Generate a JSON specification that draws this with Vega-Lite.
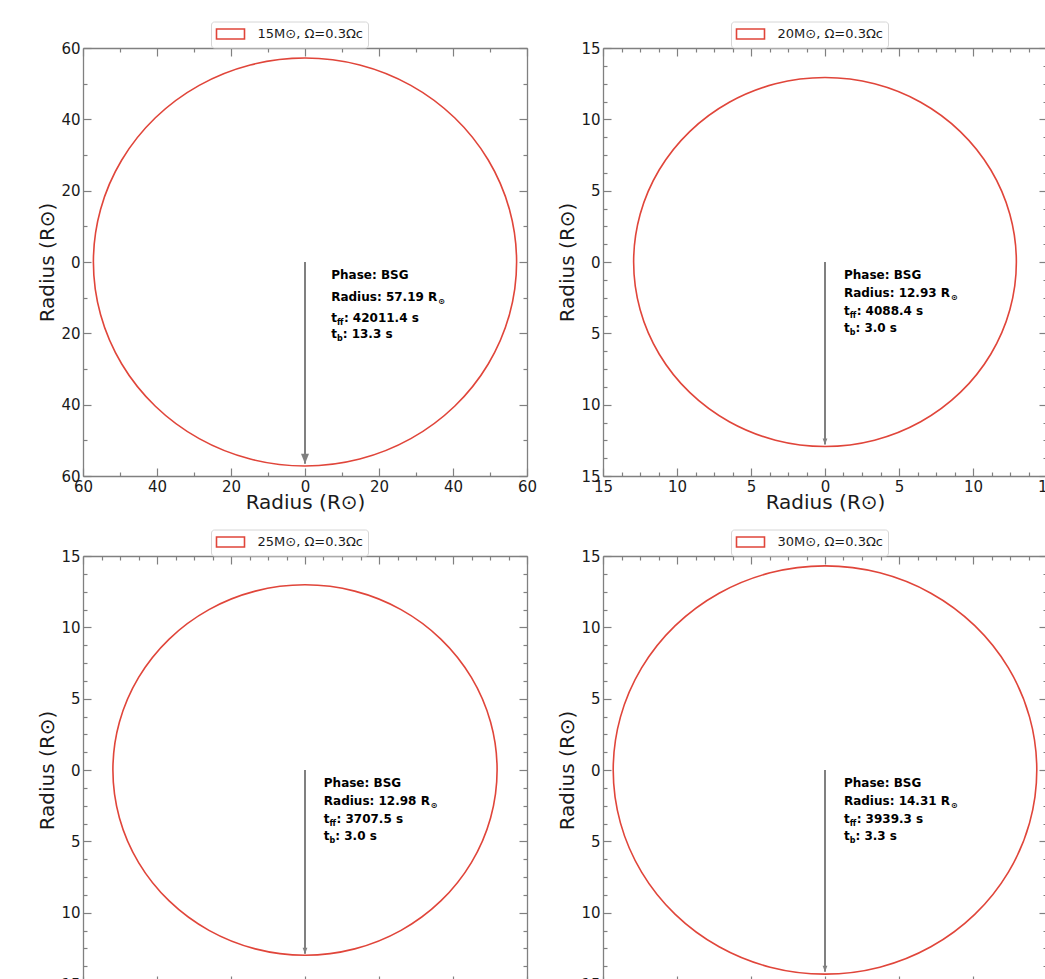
{
"$schema": "https://vega.github.io/schema/vega-lite/v6.json",
"padding": {"left": 37, "top": 21, "right": 0, "bottom": 0},
"datasets": {
"circle": [
{"star":"15M⊙, Ω=0.3Ωc","a":0,"x":57.19,"y":0},
{"star":"15M⊙, Ω=0.3Ωc","a":1,"x":55.242,"y":14.802},
{"star":"15M⊙, Ω=0.3Ωc","a":2,"x":49.528,"y":28.595},
{"star":"15M⊙, Ω=0.3Ωc","a":3,"x":40.44,"y":40.44},
{"star":"15M⊙, Ω=0.3Ωc","a":4,"x":28.595,"y":49.528},
{"star":"15M⊙, Ω=0.3Ωc","a":5,"x":14.802,"y":55.242},
{"star":"15M⊙, Ω=0.3Ωc","a":6,"x":0,"y":57.19},
{"star":"15M⊙, Ω=0.3Ωc","a":7,"x":-14.802,"y":55.242},
{"star":"15M⊙, Ω=0.3Ωc","a":8,"x":-28.595,"y":49.528},
{"star":"15M⊙, Ω=0.3Ωc","a":9,"x":-40.44,"y":40.44},
{"star":"15M⊙, Ω=0.3Ωc","a":10,"x":-49.528,"y":28.595},
{"star":"15M⊙, Ω=0.3Ωc","a":11,"x":-55.242,"y":14.802},
{"star":"15M⊙, Ω=0.3Ωc","a":12,"x":-57.19,"y":0},
{"star":"15M⊙, Ω=0.3Ωc","a":13,"x":-55.242,"y":-14.802},
{"star":"15M⊙, Ω=0.3Ωc","a":14,"x":-49.528,"y":-28.595},
{"star":"15M⊙, Ω=0.3Ωc","a":15,"x":-40.44,"y":-40.44},
{"star":"15M⊙, Ω=0.3Ωc","a":16,"x":-28.595,"y":-49.528},
{"star":"15M⊙, Ω=0.3Ωc","a":17,"x":-14.802,"y":-55.242},
{"star":"15M⊙, Ω=0.3Ωc","a":18,"x":0,"y":-57.19},
{"star":"15M⊙, Ω=0.3Ωc","a":19,"x":14.802,"y":-55.242},
{"star":"15M⊙, Ω=0.3Ωc","a":20,"x":28.595,"y":-49.528},
{"star":"15M⊙, Ω=0.3Ωc","a":21,"x":40.44,"y":-40.44},
{"star":"15M⊙, Ω=0.3Ωc","a":22,"x":49.528,"y":-28.595},
{"star":"15M⊙, Ω=0.3Ωc","a":23,"x":55.242,"y":-14.802},
{"star":"20M⊙, Ω=0.3Ωc","a":0,"x":12.93,"y":0},
{"star":"20M⊙, Ω=0.3Ωc","a":1,"x":12.49,"y":3.347},
{"star":"20M⊙, Ω=0.3Ωc","a":2,"x":11.198,"y":6.465},
{"star":"20M⊙, Ω=0.3Ωc","a":3,"x":9.143,"y":9.143},
{"star":"20M⊙, Ω=0.3Ωc","a":4,"x":6.465,"y":11.198},
{"star":"20M⊙, Ω=0.3Ωc","a":5,"x":3.347,"y":12.49},
{"star":"20M⊙, Ω=0.3Ωc","a":6,"x":0,"y":12.93},
{"star":"20M⊙, Ω=0.3Ωc","a":7,"x":-3.347,"y":12.49},
{"star":"20M⊙, Ω=0.3Ωc","a":8,"x":-6.465,"y":11.198},
{"star":"20M⊙, Ω=0.3Ωc","a":9,"x":-9.143,"y":9.143},
{"star":"20M⊙, Ω=0.3Ωc","a":10,"x":-11.198,"y":6.465},
{"star":"20M⊙, Ω=0.3Ωc","a":11,"x":-12.49,"y":3.347},
{"star":"20M⊙, Ω=0.3Ωc","a":12,"x":-12.93,"y":0},
{"star":"20M⊙, Ω=0.3Ωc","a":13,"x":-12.49,"y":-3.347},
{"star":"20M⊙, Ω=0.3Ωc","a":14,"x":-11.198,"y":-6.465},
{"star":"20M⊙, Ω=0.3Ωc","a":15,"x":-9.143,"y":-9.143},
{"star":"20M⊙, Ω=0.3Ωc","a":16,"x":-6.465,"y":-11.198},
{"star":"20M⊙, Ω=0.3Ωc","a":17,"x":-3.347,"y":-12.49},
{"star":"20M⊙, Ω=0.3Ωc","a":18,"x":0,"y":-12.93},
{"star":"20M⊙, Ω=0.3Ωc","a":19,"x":3.347,"y":-12.49},
{"star":"20M⊙, Ω=0.3Ωc","a":20,"x":6.465,"y":-11.198},
{"star":"20M⊙, Ω=0.3Ωc","a":21,"x":9.143,"y":-9.143},
{"star":"20M⊙, Ω=0.3Ωc","a":22,"x":11.198,"y":-6.465},
{"star":"20M⊙, Ω=0.3Ωc","a":23,"x":12.49,"y":-3.347},
{"star":"25M⊙, Ω=0.3Ωc","a":0,"x":12.98,"y":0},
{"star":"25M⊙, Ω=0.3Ωc","a":1,"x":12.538,"y":3.36},
{"star":"25M⊙, Ω=0.3Ωc","a":2,"x":11.241,"y":6.49},
{"star":"25M⊙, Ω=0.3Ωc","a":3,"x":9.178,"y":9.178},
{"star":"25M⊙, Ω=0.3Ωc","a":4,"x":6.49,"y":11.241},
{"star":"25M⊙, Ω=0.3Ωc","a":5,"x":3.36,"y":12.538},
{"star":"25M⊙, Ω=0.3Ωc","a":6,"x":0,"y":12.98},
{"star":"25M⊙, Ω=0.3Ωc","a":7,"x":-3.36,"y":12.538},
{"star":"25M⊙, Ω=0.3Ωc","a":8,"x":-6.49,"y":11.241},
{"star":"25M⊙, Ω=0.3Ωc","a":9,"x":-9.178,"y":9.178},
{"star":"25M⊙, Ω=0.3Ωc","a":10,"x":-11.241,"y":6.49},
{"star":"25M⊙, Ω=0.3Ωc","a":11,"x":-12.538,"y":3.36},
{"star":"25M⊙, Ω=0.3Ωc","a":12,"x":-12.98,"y":0},
{"star":"25M⊙, Ω=0.3Ωc","a":13,"x":-12.538,"y":-3.36},
{"star":"25M⊙, Ω=0.3Ωc","a":14,"x":-11.241,"y":-6.49},
{"star":"25M⊙, Ω=0.3Ωc","a":15,"x":-9.178,"y":-9.178},
{"star":"25M⊙, Ω=0.3Ωc","a":16,"x":-6.49,"y":-11.241},
{"star":"25M⊙, Ω=0.3Ωc","a":17,"x":-3.36,"y":-12.538},
{"star":"25M⊙, Ω=0.3Ωc","a":18,"x":0,"y":-12.98},
{"star":"25M⊙, Ω=0.3Ωc","a":19,"x":3.36,"y":-12.538},
{"star":"25M⊙, Ω=0.3Ωc","a":20,"x":6.49,"y":-11.241},
{"star":"25M⊙, Ω=0.3Ωc","a":21,"x":9.178,"y":-9.178},
{"star":"25M⊙, Ω=0.3Ωc","a":22,"x":11.241,"y":-6.49},
{"star":"25M⊙, Ω=0.3Ωc","a":23,"x":12.538,"y":-3.36},
{"star":"30M⊙, Ω=0.3Ωc","a":0,"x":14.31,"y":0},
{"star":"30M⊙, Ω=0.3Ωc","a":1,"x":13.823,"y":3.704},
{"star":"30M⊙, Ω=0.3Ωc","a":2,"x":12.393,"y":7.155},
{"star":"30M⊙, Ω=0.3Ωc","a":3,"x":10.119,"y":10.119},
{"star":"30M⊙, Ω=0.3Ωc","a":4,"x":7.155,"y":12.393},
{"star":"30M⊙, Ω=0.3Ωc","a":5,"x":3.704,"y":13.823},
{"star":"30M⊙, Ω=0.3Ωc","a":6,"x":0,"y":14.31},
{"star":"30M⊙, Ω=0.3Ωc","a":7,"x":-3.704,"y":13.823},
{"star":"30M⊙, Ω=0.3Ωc","a":8,"x":-7.155,"y":12.393},
{"star":"30M⊙, Ω=0.3Ωc","a":9,"x":-10.119,"y":10.119},
{"star":"30M⊙, Ω=0.3Ωc","a":10,"x":-12.393,"y":7.155},
{"star":"30M⊙, Ω=0.3Ωc","a":11,"x":-13.823,"y":3.704},
{"star":"30M⊙, Ω=0.3Ωc","a":12,"x":-14.31,"y":0},
{"star":"30M⊙, Ω=0.3Ωc","a":13,"x":-13.823,"y":-3.704},
{"star":"30M⊙, Ω=0.3Ωc","a":14,"x":-12.393,"y":-7.155},
{"star":"30M⊙, Ω=0.3Ωc","a":15,"x":-10.119,"y":-10.119},
{"star":"30M⊙, Ω=0.3Ωc","a":16,"x":-7.155,"y":-12.393},
{"star":"30M⊙, Ω=0.3Ωc","a":17,"x":-3.704,"y":-13.823},
{"star":"30M⊙, Ω=0.3Ωc","a":18,"x":0,"y":-14.31},
{"star":"30M⊙, Ω=0.3Ωc","a":19,"x":3.704,"y":-13.823},
{"star":"30M⊙, Ω=0.3Ωc","a":20,"x":7.155,"y":-12.393},
{"star":"30M⊙, Ω=0.3Ωc","a":21,"x":10.119,"y":-10.119},
{"star":"30M⊙, Ω=0.3Ωc","a":22,"x":12.393,"y":-7.155},
{"star":"30M⊙, Ω=0.3Ωc","a":23,"x":13.823,"y":-3.704}
],
"info": [
{"star":"15M⊙, Ω=0.3Ωc","phase":"Phase: BSG","rad":"Radius: 57.19 R","tff":": 42011.4 s","tb":": 13.3 s","tx":7.08,"x0":0,"y0":0,"tip":-56.6},
{"star":"20M⊙, Ω=0.3Ωc","phase":"Phase: BSG","rad":"Radius: 12.93 R","tff":": 4088.4 s","tb":": 3.0 s","tx":1.28,"x0":0,"y0":0,"tip":-12.8},
{"star":"25M⊙, Ω=0.3Ωc","phase":"Phase: BSG","rad":"Radius: 12.98 R","tff":": 3707.5 s","tb":": 3.0 s","tx":1.27,"x0":0,"y0":0,"tip":-12.88},
{"star":"30M⊙, Ω=0.3Ωc","phase":"Phase: BSG","rad":"Radius: 14.31 R","tff":": 3939.3 s","tb":": 3.3 s","tx":1.28,"x0":0,"y0":0,"tip":-14.15}
]
},
"columns": 2,
"spacing": {"row": 80, "column": 76},
"bounds": "flush",
"resolve": {"scale": {"color": "independent"}, "legend": {"color": "independent"}},
"concat": [
{
"width": 444, "height": 428,
"resolve": {"axis": {"x": "independent", "y": "independent"}},
"layer": [
{"data": {"name": "circle"}, "transform": [{"filter": "datum.star == '15M⊙, Ω=0.3Ωc'"}],
 "mark": {"type": "line", "interpolate": "cardinal-closed", "tension": 0, "strokeWidth": 1.6},
 "encoding": {
  "x": {"field": "x", "type": "quantitative", "scale": {"domain": [-60, 60], "nice": false, "zero": false},
   "axis": {"orient": "bottom", "values": [-60,-40,-20,0,20,40,60], "labelExpr": "format(abs(datum.value), 'd')", "tickSize": -8, "labelPadding": 11, "title": "Radius (R⊙)", "titlePadding": -2}},
  "y": {"field": "y", "type": "quantitative", "scale": {"domain": [-60, 60], "nice": false, "zero": false},
   "axis": {"orient": "left", "values": [-60,-40,-20,0,20,40,60], "labelExpr": "format(abs(datum.value), 'd')", "tickSize": -8, "labelPadding": 11, "title": "Radius (R⊙)", "titlePadding": 3}},
  "order": {"field": "a", "type": "quantitative"},
  "color": {"field": "star", "type": "nominal", "scale": {"range": ["#e0453a"]},
   "legend": {"orient": "none", "legendX": 128, "legendY": -26.5, "title": null, "symbolType": "M-2,-0.72H2V0.72H-2Z", "symbolSize": 196, "symbolOffset": 7, "symbolStrokeWidth": 1.6, "symbolFillColor": "transparent", "symbolStrokeColor": "#e0453a", "labelFont": "DejaVu Sans", "labelFontSize": 13, "labelColor": "#1a1a1a", "labelOffset": 19, "strokeColor": "#d6d6d6", "fillColor": "white", "cornerRadius": 3, "padding": 4.5}}
 }},
{"data": {"name": "info"}, "transform": [{"filter": "datum.star == '15M⊙, Ω=0.3Ωc'"}],
 "mark": {"type": "rule", "color": "#808080", "strokeWidth": 2},
 "encoding": {
  "x": {"field": "x0", "type": "quantitative", "axis": {"orient": "bottom", "values": [-50,-30,-10,10,30,50], "labels": false, "domain": false, "tickSize": -4, "title": null}},
  "y": {"field": "y0", "type": "quantitative", "axis": {"orient": "left", "values": [-50,-30,-10,10,30,50], "labels": false, "domain": false, "tickSize": -4, "title": null}},
  "y2": {"field": "tip"}
 }},
{"data": {"name": "info"}, "transform": [{"filter": "datum.star == '15M⊙, Ω=0.3Ωc'"}],
 "mark": {"type": "point", "shape": "M-0.8,-2L0.8,-2L0,0Z", "size": 100, "filled": true, "color": "#808080", "opacity": 1},
 "encoding": {
  "x": {"field": "x0", "type": "quantitative", "axis": {"orient": "top", "values": [-60,-40,-20,0,20,40,60], "labels": false, "domain": true, "tickSize": -8, "title": null}},
  "y": {"field": "tip", "type": "quantitative", "axis": {"orient": "right", "values": [-60,-40,-20,0,20,40,60], "labels": false, "domain": true, "tickSize": -8, "title": null}}
 }},
{"data": {"name": "info"}, "transform": [{"filter": "datum.star == '15M⊙, Ω=0.3Ωc'"}],
 "mark": {"type": "text", "align": "left", "baseline": "alphabetic", "font": "DejaVu Sans", "fontWeight": "bold", "fontSize": 12, "color": "#000000", "dy": 17.3},
 "encoding": {
  "x": {"field": "tx", "type": "quantitative", "axis": {"orient": "top", "values": [-50,-30,-10,10,30,50], "labels": false, "domain": false, "tickSize": -4, "title": null}},
  "y": {"field": "y0", "type": "quantitative", "axis": {"orient": "right", "values": [-50,-30,-10,10,30,50], "labels": false, "domain": false, "tickSize": -4, "title": null}},
  "text": {"field": "phase"}
 }},
{"data": {"name": "info"}, "transform": [{"filter": "datum.star == '15M⊙, Ω=0.3Ωc'"}],
 "mark": {"type": "text", "align": "left", "baseline": "alphabetic", "font": "DejaVu Sans", "fontWeight": "bold", "fontSize": 12, "color": "#000000", "dy": 38.7},
 "encoding": {"x": {"field": "tx", "type": "quantitative", "axis": null}, "y": {"field": "y0", "type": "quantitative", "axis": null}, "text": {"field": "rad"}}},
{"data": {"name": "info"}, "transform": [{"filter": "datum.star == '15M⊙, Ω=0.3Ωc'"}],
 "mark": {"type": "text", "align": "left", "baseline": "alphabetic", "font": "DejaVu Sans", "fontWeight": "bold", "fontSize": 8, "color": "#000000", "dx": 107, "dy": 41.7},
 "encoding": {"x": {"field": "tx", "type": "quantitative", "axis": null}, "y": {"field": "y0", "type": "quantitative", "axis": null}, "text": {"value": "⊙"}}},
{"data": {"name": "info"}, "transform": [{"filter": "datum.star == '15M⊙, Ω=0.3Ωc'"}],
 "mark": {"type": "text", "align": "left", "baseline": "alphabetic", "font": "DejaVu Sans", "fontWeight": "bold", "fontSize": 12, "color": "#000000", "dy": 59.7},
 "encoding": {"x": {"field": "tx", "type": "quantitative", "axis": null}, "y": {"field": "y0", "type": "quantitative", "axis": null}, "text": {"value": "t"}}},
{"data": {"name": "info"}, "transform": [{"filter": "datum.star == '15M⊙, Ω=0.3Ωc'"}],
 "mark": {"type": "text", "align": "left", "baseline": "alphabetic", "font": "DejaVu Sans", "fontWeight": "bold", "fontSize": 8, "color": "#000000", "dx": 5.8, "dy": 62.7},
 "encoding": {"x": {"field": "tx", "type": "quantitative", "axis": null}, "y": {"field": "y0", "type": "quantitative", "axis": null}, "text": {"value": "ff"}}},
{"data": {"name": "info"}, "transform": [{"filter": "datum.star == '15M⊙, Ω=0.3Ωc'"}],
 "mark": {"type": "text", "align": "left", "baseline": "alphabetic", "font": "DejaVu Sans", "fontWeight": "bold", "fontSize": 12, "color": "#000000", "dx": 12.7, "dy": 59.7},
 "encoding": {"x": {"field": "tx", "type": "quantitative", "axis": null}, "y": {"field": "y0", "type": "quantitative", "axis": null}, "text": {"field": "tff"}}},
{"data": {"name": "info"}, "transform": [{"filter": "datum.star == '15M⊙, Ω=0.3Ωc'"}],
 "mark": {"type": "text", "align": "left", "baseline": "alphabetic", "font": "DejaVu Sans", "fontWeight": "bold", "fontSize": 12, "color": "#000000", "dy": 76.3},
 "encoding": {"x": {"field": "tx", "type": "quantitative", "axis": null}, "y": {"field": "y0", "type": "quantitative", "axis": null}, "text": {"value": "t"}}},
{"data": {"name": "info"}, "transform": [{"filter": "datum.star == '15M⊙, Ω=0.3Ωc'"}],
 "mark": {"type": "text", "align": "left", "baseline": "alphabetic", "font": "DejaVu Sans", "fontWeight": "bold", "fontSize": 8, "color": "#000000", "dx": 5.8, "dy": 79.3},
 "encoding": {"x": {"field": "tx", "type": "quantitative", "axis": null}, "y": {"field": "y0", "type": "quantitative", "axis": null}, "text": {"value": "b"}}},
{"data": {"name": "info"}, "transform": [{"filter": "datum.star == '15M⊙, Ω=0.3Ωc'"}],
 "mark": {"type": "text", "align": "left", "baseline": "alphabetic", "font": "DejaVu Sans", "fontWeight": "bold", "fontSize": 12, "color": "#000000", "dx": 11.5, "dy": 76.3},
 "encoding": {"x": {"field": "tx", "type": "quantitative", "axis": null}, "y": {"field": "y0", "type": "quantitative", "axis": null}, "text": {"field": "tb"}}}
]
},
{
"width": 444, "height": 428,
"resolve": {"axis": {"x": "independent", "y": "independent"}},
"layer": [
{"data": {"name": "circle"}, "transform": [{"filter": "datum.star == '20M⊙, Ω=0.3Ωc'"}],
 "mark": {"type": "line", "interpolate": "cardinal-closed", "tension": 0, "strokeWidth": 1.6},
 "encoding": {
  "x": {"field": "x", "type": "quantitative", "scale": {"domain": [-15, 15], "nice": false, "zero": false},
   "axis": {"orient": "bottom", "values": [-15,-10,-5,0,5,10,15], "labelExpr": "format(abs(datum.value), 'd')", "tickSize": -8, "labelPadding": 11, "title": "Radius (R⊙)", "titlePadding": -2}},
  "y": {"field": "y", "type": "quantitative", "scale": {"domain": [-15, 15], "nice": false, "zero": false},
   "axis": {"orient": "left", "values": [-15,-10,-5,0,5,10,15], "labelExpr": "format(abs(datum.value), 'd')", "tickSize": -8, "labelPadding": 11, "title": "Radius (R⊙)", "titlePadding": 3}},
  "order": {"field": "a", "type": "quantitative"},
  "color": {"field": "star", "type": "nominal", "scale": {"range": ["#e0453a"]},
   "legend": {"orient": "none", "legendX": 128, "legendY": -26.5, "title": null, "symbolType": "M-2,-0.72H2V0.72H-2Z", "symbolSize": 196, "symbolOffset": 7, "symbolStrokeWidth": 1.6, "symbolFillColor": "transparent", "symbolStrokeColor": "#e0453a", "labelFont": "DejaVu Sans", "labelFontSize": 13, "labelColor": "#1a1a1a", "labelOffset": 19, "strokeColor": "#d6d6d6", "fillColor": "white", "cornerRadius": 3, "padding": 4.5}}
 }},
{"data": {"name": "info"}, "transform": [{"filter": "datum.star == '20M⊙, Ω=0.3Ωc'"}],
 "mark": {"type": "rule", "color": "#808080", "strokeWidth": 2},
 "encoding": {
  "x": {"field": "x0", "type": "quantitative", "axis": {"orient": "bottom", "values": [-13.75,-12.5,-11.25,-8.75,-7.5,-6.25,-3.75,-2.5,-1.25,1.25,2.5,3.75,6.25,7.5,8.75,11.25,12.5,13.75], "labels": false, "domain": false, "tickSize": -4, "title": null}},
  "y": {"field": "y0", "type": "quantitative", "axis": {"orient": "left", "values": [-13.75,-12.5,-11.25,-8.75,-7.5,-6.25,-3.75,-2.5,-1.25,1.25,2.5,3.75,6.25,7.5,8.75,11.25,12.5,13.75], "labels": false, "domain": false, "tickSize": -4, "title": null}},
  "y2": {"field": "tip"}
 }},
{"data": {"name": "info"}, "transform": [{"filter": "datum.star == '20M⊙, Ω=0.3Ωc'"}],
 "mark": {"type": "point", "shape": "M-0.8,-2L0.8,-2L0,0Z", "size": 36, "filled": true, "color": "#808080", "opacity": 1},
 "encoding": {
  "x": {"field": "x0", "type": "quantitative", "axis": {"orient": "top", "values": [-15,-10,-5,0,5,10,15], "labels": false, "domain": true, "tickSize": -8, "title": null}},
  "y": {"field": "tip", "type": "quantitative", "axis": {"orient": "right", "values": [-15,-10,-5,0,5,10,15], "labels": false, "domain": true, "tickSize": -8, "title": null}}
 }},
{"data": {"name": "info"}, "transform": [{"filter": "datum.star == '20M⊙, Ω=0.3Ωc'"}],
 "mark": {"type": "text", "align": "left", "baseline": "alphabetic", "font": "DejaVu Sans", "fontWeight": "bold", "fontSize": 12, "color": "#000000", "dy": 17.3},
 "encoding": {
  "x": {"field": "tx", "type": "quantitative", "axis": {"orient": "top", "values": [-13.75,-12.5,-11.25,-8.75,-7.5,-6.25,-3.75,-2.5,-1.25,1.25,2.5,3.75,6.25,7.5,8.75,11.25,12.5,13.75], "labels": false, "domain": false, "tickSize": -4, "title": null}},
  "y": {"field": "y0", "type": "quantitative", "axis": {"orient": "right", "values": [-13.75,-12.5,-11.25,-8.75,-7.5,-6.25,-3.75,-2.5,-1.25,1.25,2.5,3.75,6.25,7.5,8.75,11.25,12.5,13.75], "labels": false, "domain": false, "tickSize": -4, "title": null}},
  "text": {"field": "phase"}
 }},
{"data": {"name": "info"}, "transform": [{"filter": "datum.star == '20M⊙, Ω=0.3Ωc'"}],
 "mark": {"type": "text", "align": "left", "baseline": "alphabetic", "font": "DejaVu Sans", "fontWeight": "bold", "fontSize": 12, "color": "#000000", "dy": 35},
 "encoding": {"x": {"field": "tx", "type": "quantitative", "axis": null}, "y": {"field": "y0", "type": "quantitative", "axis": null}, "text": {"field": "rad"}}},
{"data": {"name": "info"}, "transform": [{"filter": "datum.star == '20M⊙, Ω=0.3Ωc'"}],
 "mark": {"type": "text", "align": "left", "baseline": "alphabetic", "font": "DejaVu Sans", "fontWeight": "bold", "fontSize": 8, "color": "#000000", "dx": 107, "dy": 38},
 "encoding": {"x": {"field": "tx", "type": "quantitative", "axis": null}, "y": {"field": "y0", "type": "quantitative", "axis": null}, "text": {"value": "⊙"}}},
{"data": {"name": "info"}, "transform": [{"filter": "datum.star == '20M⊙, Ω=0.3Ωc'"}],
 "mark": {"type": "text", "align": "left", "baseline": "alphabetic", "font": "DejaVu Sans", "fontWeight": "bold", "fontSize": 12, "color": "#000000", "dy": 53.3},
 "encoding": {"x": {"field": "tx", "type": "quantitative", "axis": null}, "y": {"field": "y0", "type": "quantitative", "axis": null}, "text": {"value": "t"}}},
{"data": {"name": "info"}, "transform": [{"filter": "datum.star == '20M⊙, Ω=0.3Ωc'"}],
 "mark": {"type": "text", "align": "left", "baseline": "alphabetic", "font": "DejaVu Sans", "fontWeight": "bold", "fontSize": 8, "color": "#000000", "dx": 5.8, "dy": 56.3},
 "encoding": {"x": {"field": "tx", "type": "quantitative", "axis": null}, "y": {"field": "y0", "type": "quantitative", "axis": null}, "text": {"value": "ff"}}},
{"data": {"name": "info"}, "transform": [{"filter": "datum.star == '20M⊙, Ω=0.3Ωc'"}],
 "mark": {"type": "text", "align": "left", "baseline": "alphabetic", "font": "DejaVu Sans", "fontWeight": "bold", "fontSize": 12, "color": "#000000", "dx": 12.7, "dy": 53.3},
 "encoding": {"x": {"field": "tx", "type": "quantitative", "axis": null}, "y": {"field": "y0", "type": "quantitative", "axis": null}, "text": {"field": "tff"}}},
{"data": {"name": "info"}, "transform": [{"filter": "datum.star == '20M⊙, Ω=0.3Ωc'"}],
 "mark": {"type": "text", "align": "left", "baseline": "alphabetic", "font": "DejaVu Sans", "fontWeight": "bold", "fontSize": 12, "color": "#000000", "dy": 70},
 "encoding": {"x": {"field": "tx", "type": "quantitative", "axis": null}, "y": {"field": "y0", "type": "quantitative", "axis": null}, "text": {"value": "t"}}},
{"data": {"name": "info"}, "transform": [{"filter": "datum.star == '20M⊙, Ω=0.3Ωc'"}],
 "mark": {"type": "text", "align": "left", "baseline": "alphabetic", "font": "DejaVu Sans", "fontWeight": "bold", "fontSize": 8, "color": "#000000", "dx": 5.8, "dy": 73},
 "encoding": {"x": {"field": "tx", "type": "quantitative", "axis": null}, "y": {"field": "y0", "type": "quantitative", "axis": null}, "text": {"value": "b"}}},
{"data": {"name": "info"}, "transform": [{"filter": "datum.star == '20M⊙, Ω=0.3Ωc'"}],
 "mark": {"type": "text", "align": "left", "baseline": "alphabetic", "font": "DejaVu Sans", "fontWeight": "bold", "fontSize": 12, "color": "#000000", "dx": 11.5, "dy": 70},
 "encoding": {"x": {"field": "tx", "type": "quantitative", "axis": null}, "y": {"field": "y0", "type": "quantitative", "axis": null}, "text": {"field": "tb"}}}
]
},
{
"width": 444, "height": 428,
"resolve": {"axis": {"x": "independent", "y": "independent"}},
"layer": [
{"data": {"name": "circle"}, "transform": [{"filter": "datum.star == '25M⊙, Ω=0.3Ωc'"}],
 "mark": {"type": "line", "interpolate": "cardinal-closed", "tension": 0, "strokeWidth": 1.6},
 "encoding": {
  "x": {"field": "x", "type": "quantitative", "scale": {"domain": [-15, 15], "nice": false, "zero": false},
   "axis": {"orient": "bottom", "values": [-15,-10,-5,0,5,10,15], "labelExpr": "format(abs(datum.value), 'd')", "tickSize": -8, "labelPadding": 11, "title": "Radius (R⊙)", "titlePadding": -2}},
  "y": {"field": "y", "type": "quantitative", "scale": {"domain": [-15, 15], "nice": false, "zero": false},
   "axis": {"orient": "left", "values": [-15,-10,-5,0,5,10,15], "labelExpr": "format(abs(datum.value), 'd')", "tickSize": -8, "labelPadding": 11, "title": "Radius (R⊙)", "titlePadding": 3}},
  "order": {"field": "a", "type": "quantitative"},
  "color": {"field": "star", "type": "nominal", "scale": {"range": ["#e0453a"]},
   "legend": {"orient": "none", "legendX": 128, "legendY": -26.5, "title": null, "symbolType": "M-2,-0.72H2V0.72H-2Z", "symbolSize": 196, "symbolOffset": 7, "symbolStrokeWidth": 1.6, "symbolFillColor": "transparent", "symbolStrokeColor": "#e0453a", "labelFont": "DejaVu Sans", "labelFontSize": 13, "labelColor": "#1a1a1a", "labelOffset": 19, "strokeColor": "#d6d6d6", "fillColor": "white", "cornerRadius": 3, "padding": 4.5}}
 }},
{"data": {"name": "info"}, "transform": [{"filter": "datum.star == '25M⊙, Ω=0.3Ωc'"}],
 "mark": {"type": "rule", "color": "#808080", "strokeWidth": 2},
 "encoding": {
  "x": {"field": "x0", "type": "quantitative", "axis": {"orient": "bottom", "values": [-13.75,-12.5,-11.25,-8.75,-7.5,-6.25,-3.75,-2.5,-1.25,1.25,2.5,3.75,6.25,7.5,8.75,11.25,12.5,13.75], "labels": false, "domain": false, "tickSize": -4, "title": null}},
  "y": {"field": "y0", "type": "quantitative", "axis": {"orient": "left", "values": [-13.75,-12.5,-11.25,-8.75,-7.5,-6.25,-3.75,-2.5,-1.25,1.25,2.5,3.75,6.25,7.5,8.75,11.25,12.5,13.75], "labels": false, "domain": false, "tickSize": -4, "title": null}},
  "y2": {"field": "tip"}
 }},
{"data": {"name": "info"}, "transform": [{"filter": "datum.star == '25M⊙, Ω=0.3Ωc'"}],
 "mark": {"type": "point", "shape": "M-0.8,-2L0.8,-2L0,0Z", "size": 36, "filled": true, "color": "#808080", "opacity": 1},
 "encoding": {
  "x": {"field": "x0", "type": "quantitative", "axis": {"orient": "top", "values": [-15,-10,-5,0,5,10,15], "labels": false, "domain": true, "tickSize": -8, "title": null}},
  "y": {"field": "tip", "type": "quantitative", "axis": {"orient": "right", "values": [-15,-10,-5,0,5,10,15], "labels": false, "domain": true, "tickSize": -8, "title": null}}
 }},
{"data": {"name": "info"}, "transform": [{"filter": "datum.star == '25M⊙, Ω=0.3Ωc'"}],
 "mark": {"type": "text", "align": "left", "baseline": "alphabetic", "font": "DejaVu Sans", "fontWeight": "bold", "fontSize": 12, "color": "#000000", "dy": 17.3},
 "encoding": {
  "x": {"field": "tx", "type": "quantitative", "axis": {"orient": "top", "values": [-13.75,-12.5,-11.25,-8.75,-7.5,-6.25,-3.75,-2.5,-1.25,1.25,2.5,3.75,6.25,7.5,8.75,11.25,12.5,13.75], "labels": false, "domain": false, "tickSize": -4, "title": null}},
  "y": {"field": "y0", "type": "quantitative", "axis": {"orient": "right", "values": [-13.75,-12.5,-11.25,-8.75,-7.5,-6.25,-3.75,-2.5,-1.25,1.25,2.5,3.75,6.25,7.5,8.75,11.25,12.5,13.75], "labels": false, "domain": false, "tickSize": -4, "title": null}},
  "text": {"field": "phase"}
 }},
{"data": {"name": "info"}, "transform": [{"filter": "datum.star == '25M⊙, Ω=0.3Ωc'"}],
 "mark": {"type": "text", "align": "left", "baseline": "alphabetic", "font": "DejaVu Sans", "fontWeight": "bold", "fontSize": 12, "color": "#000000", "dy": 35},
 "encoding": {"x": {"field": "tx", "type": "quantitative", "axis": null}, "y": {"field": "y0", "type": "quantitative", "axis": null}, "text": {"field": "rad"}}},
{"data": {"name": "info"}, "transform": [{"filter": "datum.star == '25M⊙, Ω=0.3Ωc'"}],
 "mark": {"type": "text", "align": "left", "baseline": "alphabetic", "font": "DejaVu Sans", "fontWeight": "bold", "fontSize": 8, "color": "#000000", "dx": 107, "dy": 38},
 "encoding": {"x": {"field": "tx", "type": "quantitative", "axis": null}, "y": {"field": "y0", "type": "quantitative", "axis": null}, "text": {"value": "⊙"}}},
{"data": {"name": "info"}, "transform": [{"filter": "datum.star == '25M⊙, Ω=0.3Ωc'"}],
 "mark": {"type": "text", "align": "left", "baseline": "alphabetic", "font": "DejaVu Sans", "fontWeight": "bold", "fontSize": 12, "color": "#000000", "dy": 53.3},
 "encoding": {"x": {"field": "tx", "type": "quantitative", "axis": null}, "y": {"field": "y0", "type": "quantitative", "axis": null}, "text": {"value": "t"}}},
{"data": {"name": "info"}, "transform": [{"filter": "datum.star == '25M⊙, Ω=0.3Ωc'"}],
 "mark": {"type": "text", "align": "left", "baseline": "alphabetic", "font": "DejaVu Sans", "fontWeight": "bold", "fontSize": 8, "color": "#000000", "dx": 5.8, "dy": 56.3},
 "encoding": {"x": {"field": "tx", "type": "quantitative", "axis": null}, "y": {"field": "y0", "type": "quantitative", "axis": null}, "text": {"value": "ff"}}},
{"data": {"name": "info"}, "transform": [{"filter": "datum.star == '25M⊙, Ω=0.3Ωc'"}],
 "mark": {"type": "text", "align": "left", "baseline": "alphabetic", "font": "DejaVu Sans", "fontWeight": "bold", "fontSize": 12, "color": "#000000", "dx": 12.7, "dy": 53.3},
 "encoding": {"x": {"field": "tx", "type": "quantitative", "axis": null}, "y": {"field": "y0", "type": "quantitative", "axis": null}, "text": {"field": "tff"}}},
{"data": {"name": "info"}, "transform": [{"filter": "datum.star == '25M⊙, Ω=0.3Ωc'"}],
 "mark": {"type": "text", "align": "left", "baseline": "alphabetic", "font": "DejaVu Sans", "fontWeight": "bold", "fontSize": 12, "color": "#000000", "dy": 70},
 "encoding": {"x": {"field": "tx", "type": "quantitative", "axis": null}, "y": {"field": "y0", "type": "quantitative", "axis": null}, "text": {"value": "t"}}},
{"data": {"name": "info"}, "transform": [{"filter": "datum.star == '25M⊙, Ω=0.3Ωc'"}],
 "mark": {"type": "text", "align": "left", "baseline": "alphabetic", "font": "DejaVu Sans", "fontWeight": "bold", "fontSize": 8, "color": "#000000", "dx": 5.8, "dy": 73},
 "encoding": {"x": {"field": "tx", "type": "quantitative", "axis": null}, "y": {"field": "y0", "type": "quantitative", "axis": null}, "text": {"value": "b"}}},
{"data": {"name": "info"}, "transform": [{"filter": "datum.star == '25M⊙, Ω=0.3Ωc'"}],
 "mark": {"type": "text", "align": "left", "baseline": "alphabetic", "font": "DejaVu Sans", "fontWeight": "bold", "fontSize": 12, "color": "#000000", "dx": 11.5, "dy": 70},
 "encoding": {"x": {"field": "tx", "type": "quantitative", "axis": null}, "y": {"field": "y0", "type": "quantitative", "axis": null}, "text": {"field": "tb"}}}
]
},
{
"width": 444, "height": 428,
"resolve": {"axis": {"x": "independent", "y": "independent"}},
"layer": [
{"data": {"name": "circle"}, "transform": [{"filter": "datum.star == '30M⊙, Ω=0.3Ωc'"}],
 "mark": {"type": "line", "interpolate": "cardinal-closed", "tension": 0, "strokeWidth": 1.6},
 "encoding": {
  "x": {"field": "x", "type": "quantitative", "scale": {"domain": [-15, 15], "nice": false, "zero": false},
   "axis": {"orient": "bottom", "values": [-15,-10,-5,0,5,10,15], "labelExpr": "format(abs(datum.value), 'd')", "tickSize": -8, "labelPadding": 11, "title": "Radius (R⊙)", "titlePadding": -2}},
  "y": {"field": "y", "type": "quantitative", "scale": {"domain": [-15, 15], "nice": false, "zero": false},
   "axis": {"orient": "left", "values": [-15,-10,-5,0,5,10,15], "labelExpr": "format(abs(datum.value), 'd')", "tickSize": -8, "labelPadding": 11, "title": "Radius (R⊙)", "titlePadding": 3}},
  "order": {"field": "a", "type": "quantitative"},
  "color": {"field": "star", "type": "nominal", "scale": {"range": ["#e0453a"]},
   "legend": {"orient": "none", "legendX": 128, "legendY": -26.5, "title": null, "symbolType": "M-2,-0.72H2V0.72H-2Z", "symbolSize": 196, "symbolOffset": 7, "symbolStrokeWidth": 1.6, "symbolFillColor": "transparent", "symbolStrokeColor": "#e0453a", "labelFont": "DejaVu Sans", "labelFontSize": 13, "labelColor": "#1a1a1a", "labelOffset": 19, "strokeColor": "#d6d6d6", "fillColor": "white", "cornerRadius": 3, "padding": 4.5}}
 }},
{"data": {"name": "info"}, "transform": [{"filter": "datum.star == '30M⊙, Ω=0.3Ωc'"}],
 "mark": {"type": "rule", "color": "#808080", "strokeWidth": 2},
 "encoding": {
  "x": {"field": "x0", "type": "quantitative", "axis": {"orient": "bottom", "values": [-13.75,-12.5,-11.25,-8.75,-7.5,-6.25,-3.75,-2.5,-1.25,1.25,2.5,3.75,6.25,7.5,8.75,11.25,12.5,13.75], "labels": false, "domain": false, "tickSize": -4, "title": null}},
  "y": {"field": "y0", "type": "quantitative", "axis": {"orient": "left", "values": [-13.75,-12.5,-11.25,-8.75,-7.5,-6.25,-3.75,-2.5,-1.25,1.25,2.5,3.75,6.25,7.5,8.75,11.25,12.5,13.75], "labels": false, "domain": false, "tickSize": -4, "title": null}},
  "y2": {"field": "tip"}
 }},
{"data": {"name": "info"}, "transform": [{"filter": "datum.star == '30M⊙, Ω=0.3Ωc'"}],
 "mark": {"type": "point", "shape": "M-0.8,-2L0.8,-2L0,0Z", "size": 36, "filled": true, "color": "#808080", "opacity": 1},
 "encoding": {
  "x": {"field": "x0", "type": "quantitative", "axis": {"orient": "top", "values": [-15,-10,-5,0,5,10,15], "labels": false, "domain": true, "tickSize": -8, "title": null}},
  "y": {"field": "tip", "type": "quantitative", "axis": {"orient": "right", "values": [-15,-10,-5,0,5,10,15], "labels": false, "domain": true, "tickSize": -8, "title": null}}
 }},
{"data": {"name": "info"}, "transform": [{"filter": "datum.star == '30M⊙, Ω=0.3Ωc'"}],
 "mark": {"type": "text", "align": "left", "baseline": "alphabetic", "font": "DejaVu Sans", "fontWeight": "bold", "fontSize": 12, "color": "#000000", "dy": 17.3},
 "encoding": {
  "x": {"field": "tx", "type": "quantitative", "axis": {"orient": "top", "values": [-13.75,-12.5,-11.25,-8.75,-7.5,-6.25,-3.75,-2.5,-1.25,1.25,2.5,3.75,6.25,7.5,8.75,11.25,12.5,13.75], "labels": false, "domain": false, "tickSize": -4, "title": null}},
  "y": {"field": "y0", "type": "quantitative", "axis": {"orient": "right", "values": [-13.75,-12.5,-11.25,-8.75,-7.5,-6.25,-3.75,-2.5,-1.25,1.25,2.5,3.75,6.25,7.5,8.75,11.25,12.5,13.75], "labels": false, "domain": false, "tickSize": -4, "title": null}},
  "text": {"field": "phase"}
 }},
{"data": {"name": "info"}, "transform": [{"filter": "datum.star == '30M⊙, Ω=0.3Ωc'"}],
 "mark": {"type": "text", "align": "left", "baseline": "alphabetic", "font": "DejaVu Sans", "fontWeight": "bold", "fontSize": 12, "color": "#000000", "dy": 35},
 "encoding": {"x": {"field": "tx", "type": "quantitative", "axis": null}, "y": {"field": "y0", "type": "quantitative", "axis": null}, "text": {"field": "rad"}}},
{"data": {"name": "info"}, "transform": [{"filter": "datum.star == '30M⊙, Ω=0.3Ωc'"}],
 "mark": {"type": "text", "align": "left", "baseline": "alphabetic", "font": "DejaVu Sans", "fontWeight": "bold", "fontSize": 8, "color": "#000000", "dx": 107, "dy": 38},
 "encoding": {"x": {"field": "tx", "type": "quantitative", "axis": null}, "y": {"field": "y0", "type": "quantitative", "axis": null}, "text": {"value": "⊙"}}},
{"data": {"name": "info"}, "transform": [{"filter": "datum.star == '30M⊙, Ω=0.3Ωc'"}],
 "mark": {"type": "text", "align": "left", "baseline": "alphabetic", "font": "DejaVu Sans", "fontWeight": "bold", "fontSize": 12, "color": "#000000", "dy": 53.3},
 "encoding": {"x": {"field": "tx", "type": "quantitative", "axis": null}, "y": {"field": "y0", "type": "quantitative", "axis": null}, "text": {"value": "t"}}},
{"data": {"name": "info"}, "transform": [{"filter": "datum.star == '30M⊙, Ω=0.3Ωc'"}],
 "mark": {"type": "text", "align": "left", "baseline": "alphabetic", "font": "DejaVu Sans", "fontWeight": "bold", "fontSize": 8, "color": "#000000", "dx": 5.8, "dy": 56.3},
 "encoding": {"x": {"field": "tx", "type": "quantitative", "axis": null}, "y": {"field": "y0", "type": "quantitative", "axis": null}, "text": {"value": "ff"}}},
{"data": {"name": "info"}, "transform": [{"filter": "datum.star == '30M⊙, Ω=0.3Ωc'"}],
 "mark": {"type": "text", "align": "left", "baseline": "alphabetic", "font": "DejaVu Sans", "fontWeight": "bold", "fontSize": 12, "color": "#000000", "dx": 12.7, "dy": 53.3},
 "encoding": {"x": {"field": "tx", "type": "quantitative", "axis": null}, "y": {"field": "y0", "type": "quantitative", "axis": null}, "text": {"field": "tff"}}},
{"data": {"name": "info"}, "transform": [{"filter": "datum.star == '30M⊙, Ω=0.3Ωc'"}],
 "mark": {"type": "text", "align": "left", "baseline": "alphabetic", "font": "DejaVu Sans", "fontWeight": "bold", "fontSize": 12, "color": "#000000", "dy": 70},
 "encoding": {"x": {"field": "tx", "type": "quantitative", "axis": null}, "y": {"field": "y0", "type": "quantitative", "axis": null}, "text": {"value": "t"}}},
{"data": {"name": "info"}, "transform": [{"filter": "datum.star == '30M⊙, Ω=0.3Ωc'"}],
 "mark": {"type": "text", "align": "left", "baseline": "alphabetic", "font": "DejaVu Sans", "fontWeight": "bold", "fontSize": 8, "color": "#000000", "dx": 5.8, "dy": 73},
 "encoding": {"x": {"field": "tx", "type": "quantitative", "axis": null}, "y": {"field": "y0", "type": "quantitative", "axis": null}, "text": {"value": "b"}}},
{"data": {"name": "info"}, "transform": [{"filter": "datum.star == '30M⊙, Ω=0.3Ωc'"}],
 "mark": {"type": "text", "align": "left", "baseline": "alphabetic", "font": "DejaVu Sans", "fontWeight": "bold", "fontSize": 12, "color": "#000000", "dx": 11.5, "dy": 70},
 "encoding": {"x": {"field": "tx", "type": "quantitative", "axis": null}, "y": {"field": "y0", "type": "quantitative", "axis": null}, "text": {"field": "tb"}}}
]
}
],
"config": {
 "view": {"stroke": null},
 "font": "DejaVu Sans",
 "axis": {"grid": false, "domainColor": "#808080", "tickColor": "#808080", "domainWidth": 1.3, "tickWidth": 1.2, "labelFont": "DejaVu Sans", "labelFontSize": 15, "labelColor": "#1a1a1a", "titleFont": "DejaVu Sans", "titleFontSize": 20, "titleFontWeight": "normal", "titleColor": "#1a1a1a", "labelFlush": false, "labelOverlap": false}
}
}
